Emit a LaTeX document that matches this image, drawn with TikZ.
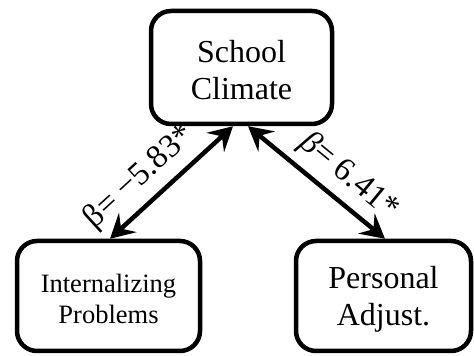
\documentclass[tikz,border=0pt]{standalone}
\usepackage{fontspec}
\setmainfont{Liberation Serif}
\usetikzlibrary{arrows.meta}
\begin{document}
\begin{tikzpicture}[x=1pt,y=1pt,
 box/.style={draw=black, line width=4.5pt, rounded corners=20pt, align=center, inner sep=0pt},
 arr/.style={line width=4.5pt, {Stealth[length=24pt,width=26pt,inset=9pt]}-{Stealth[length=24pt,width=26pt,inset=9pt]}},
 lab/.style={sloped, inner sep=2pt, font=\fontsize{33}{38}\selectfont}]
\useasboundingbox (0,0) rectangle (474,356);
\node[box, minimum width=181pt, minimum height=113pt, font=\fontsize{32}{37}\selectfont] (sc) at (241.5,288.5) {\rule{0pt}{27pt}School\\Climate};
\node[box, minimum width=183pt, minimum height=110pt, font=\fontsize{26.5}{31}\selectfont] (int) at (108.5,60) {\rule{0pt}{24pt}Internalizing\\Problems};
\node[box, minimum width=175pt, minimum height=110pt, font=\fontsize{32}{37}\selectfont] (pa) at (383.5,60) {\rule{0pt}{29pt}Personal\\Adjust.};
\draw[arr] ([xshift=1.5pt]int.north) -- node[lab, pos=0.38, above=6pt] {β= −5.83*} ([xshift=-8.5pt]sc.south);
\draw[arr] ([xshift=6.5pt]sc.south) -- node[lab, pos=0.62, above=6pt] {\textit{β}= 6.41*} ([xshift=1.5pt]pa.north);
\end{tikzpicture}
\end{document}
